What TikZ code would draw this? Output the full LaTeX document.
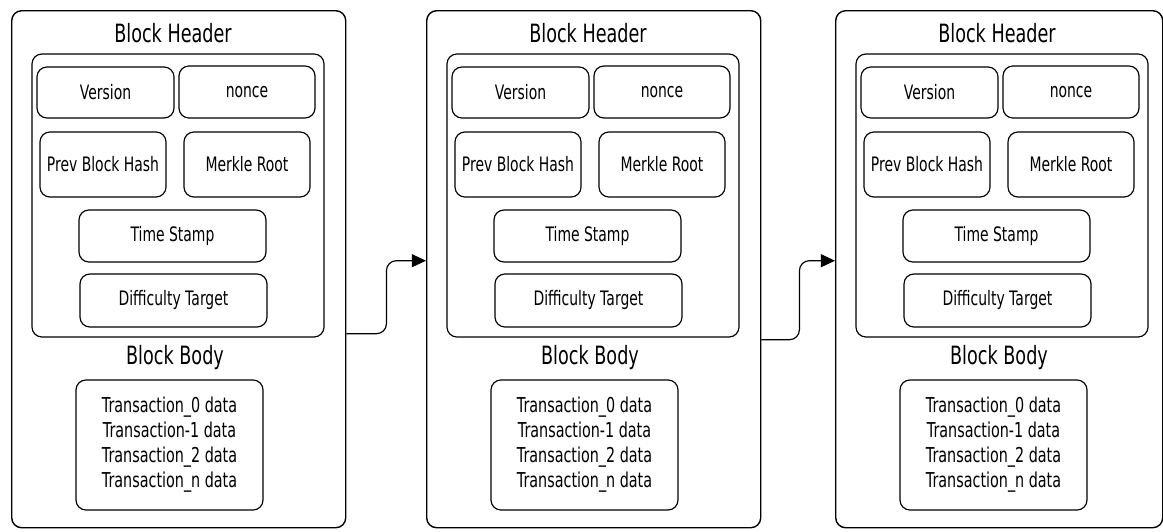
\documentclass[tikz,border=0pt]{standalone}
\usepackage{fontspec}
\setmainfont{DejaVu Sans}[FakeStretch=0.7]
\usetikzlibrary{calc,arrows.meta}
\begin{document}
\begin{tikzpicture}[x=0.03cm,y=-0.03cm]

  \tikzstyle{box} = [draw, line width=1pt, rounded corners=8.5pt, inner sep=0pt];
  \tikzstyle{field} = [box, font=\fontsize{17}{20}\selectfont];
  \tikzstyle{title} = [font=\fontsize{21.5}{25}\selectfont];
  \tikzstyle{link} = [line width=1pt, rounded corners=8.5pt, -{Triangle[length=12pt,width=11pt]}];

  \useasboundingbox (0,0) rectangle (1163,532);

  \foreach \dx/\ow [count=\i] in {0/10.02cm, 415/10.02cm, 824/9.81cm} {
    \node[box, line width=1.2pt, anchor=north west, minimum width=\ow, minimum height=15.51cm] (blk\i) at (11+\dx,10) {};
    \node[title] (hdt\i) at (173+\dx,33) {Block Header};
    \node[box, minimum width=8.76cm, minimum height=8.49cm] (hd\i) at (178+\dx,195.5) {};
    \node[field, minimum width=4.11cm, minimum height=1.53cm] (ver\i) at (105.5+\dx,92.5) {Version};
    \node[field, minimum width=4.08cm, minimum height=1.56cm] (non\i) at (247+\dx,92) {nonce};
    \node[field, minimum width=3.78cm, minimum height=1.95cm] (prv\i) at (103+\dx,164.5) {Prev Block Hash};
    \node[field, minimum width=3.78cm, minimum height=1.95cm] (mrk\i) at (247+\dx,164.5) {Merkle Root};
    \node[field, minimum width=5.61cm, minimum height=1.56cm] (ts\i) at (172.5+\dx,236) {Time Stamp};
    \node[field, minimum width=5.61cm, minimum height=1.59cm] (dif\i) at (173.5+\dx,300.5) {Difficulty Target};
    \node[title] (bdt\i) at (175+\dx,358) {Block Body};
    \node[field, font=\fontsize{17.5}{21.3}\selectfont, align=center, minimum width=5.61cm, minimum height=3.9cm] (tx\i) at (169.5+\dx,445)
      {Transaction\_0 data\\Transaction-1 data\\Transaction\_2 data\\Transaction\_n data};
  }

  \draw[link] ($(blk1.east)+(0,64.5)$) -| ++(40,-73) -- ($(blk2.west)+(0,-8.5)$);
  \draw[link] ($(blk2.east)+(0,70.5)$) -| ++(38,-79) -- ($(blk3.west)+(0,-8.5)$);
\end{tikzpicture}
\end{document}
